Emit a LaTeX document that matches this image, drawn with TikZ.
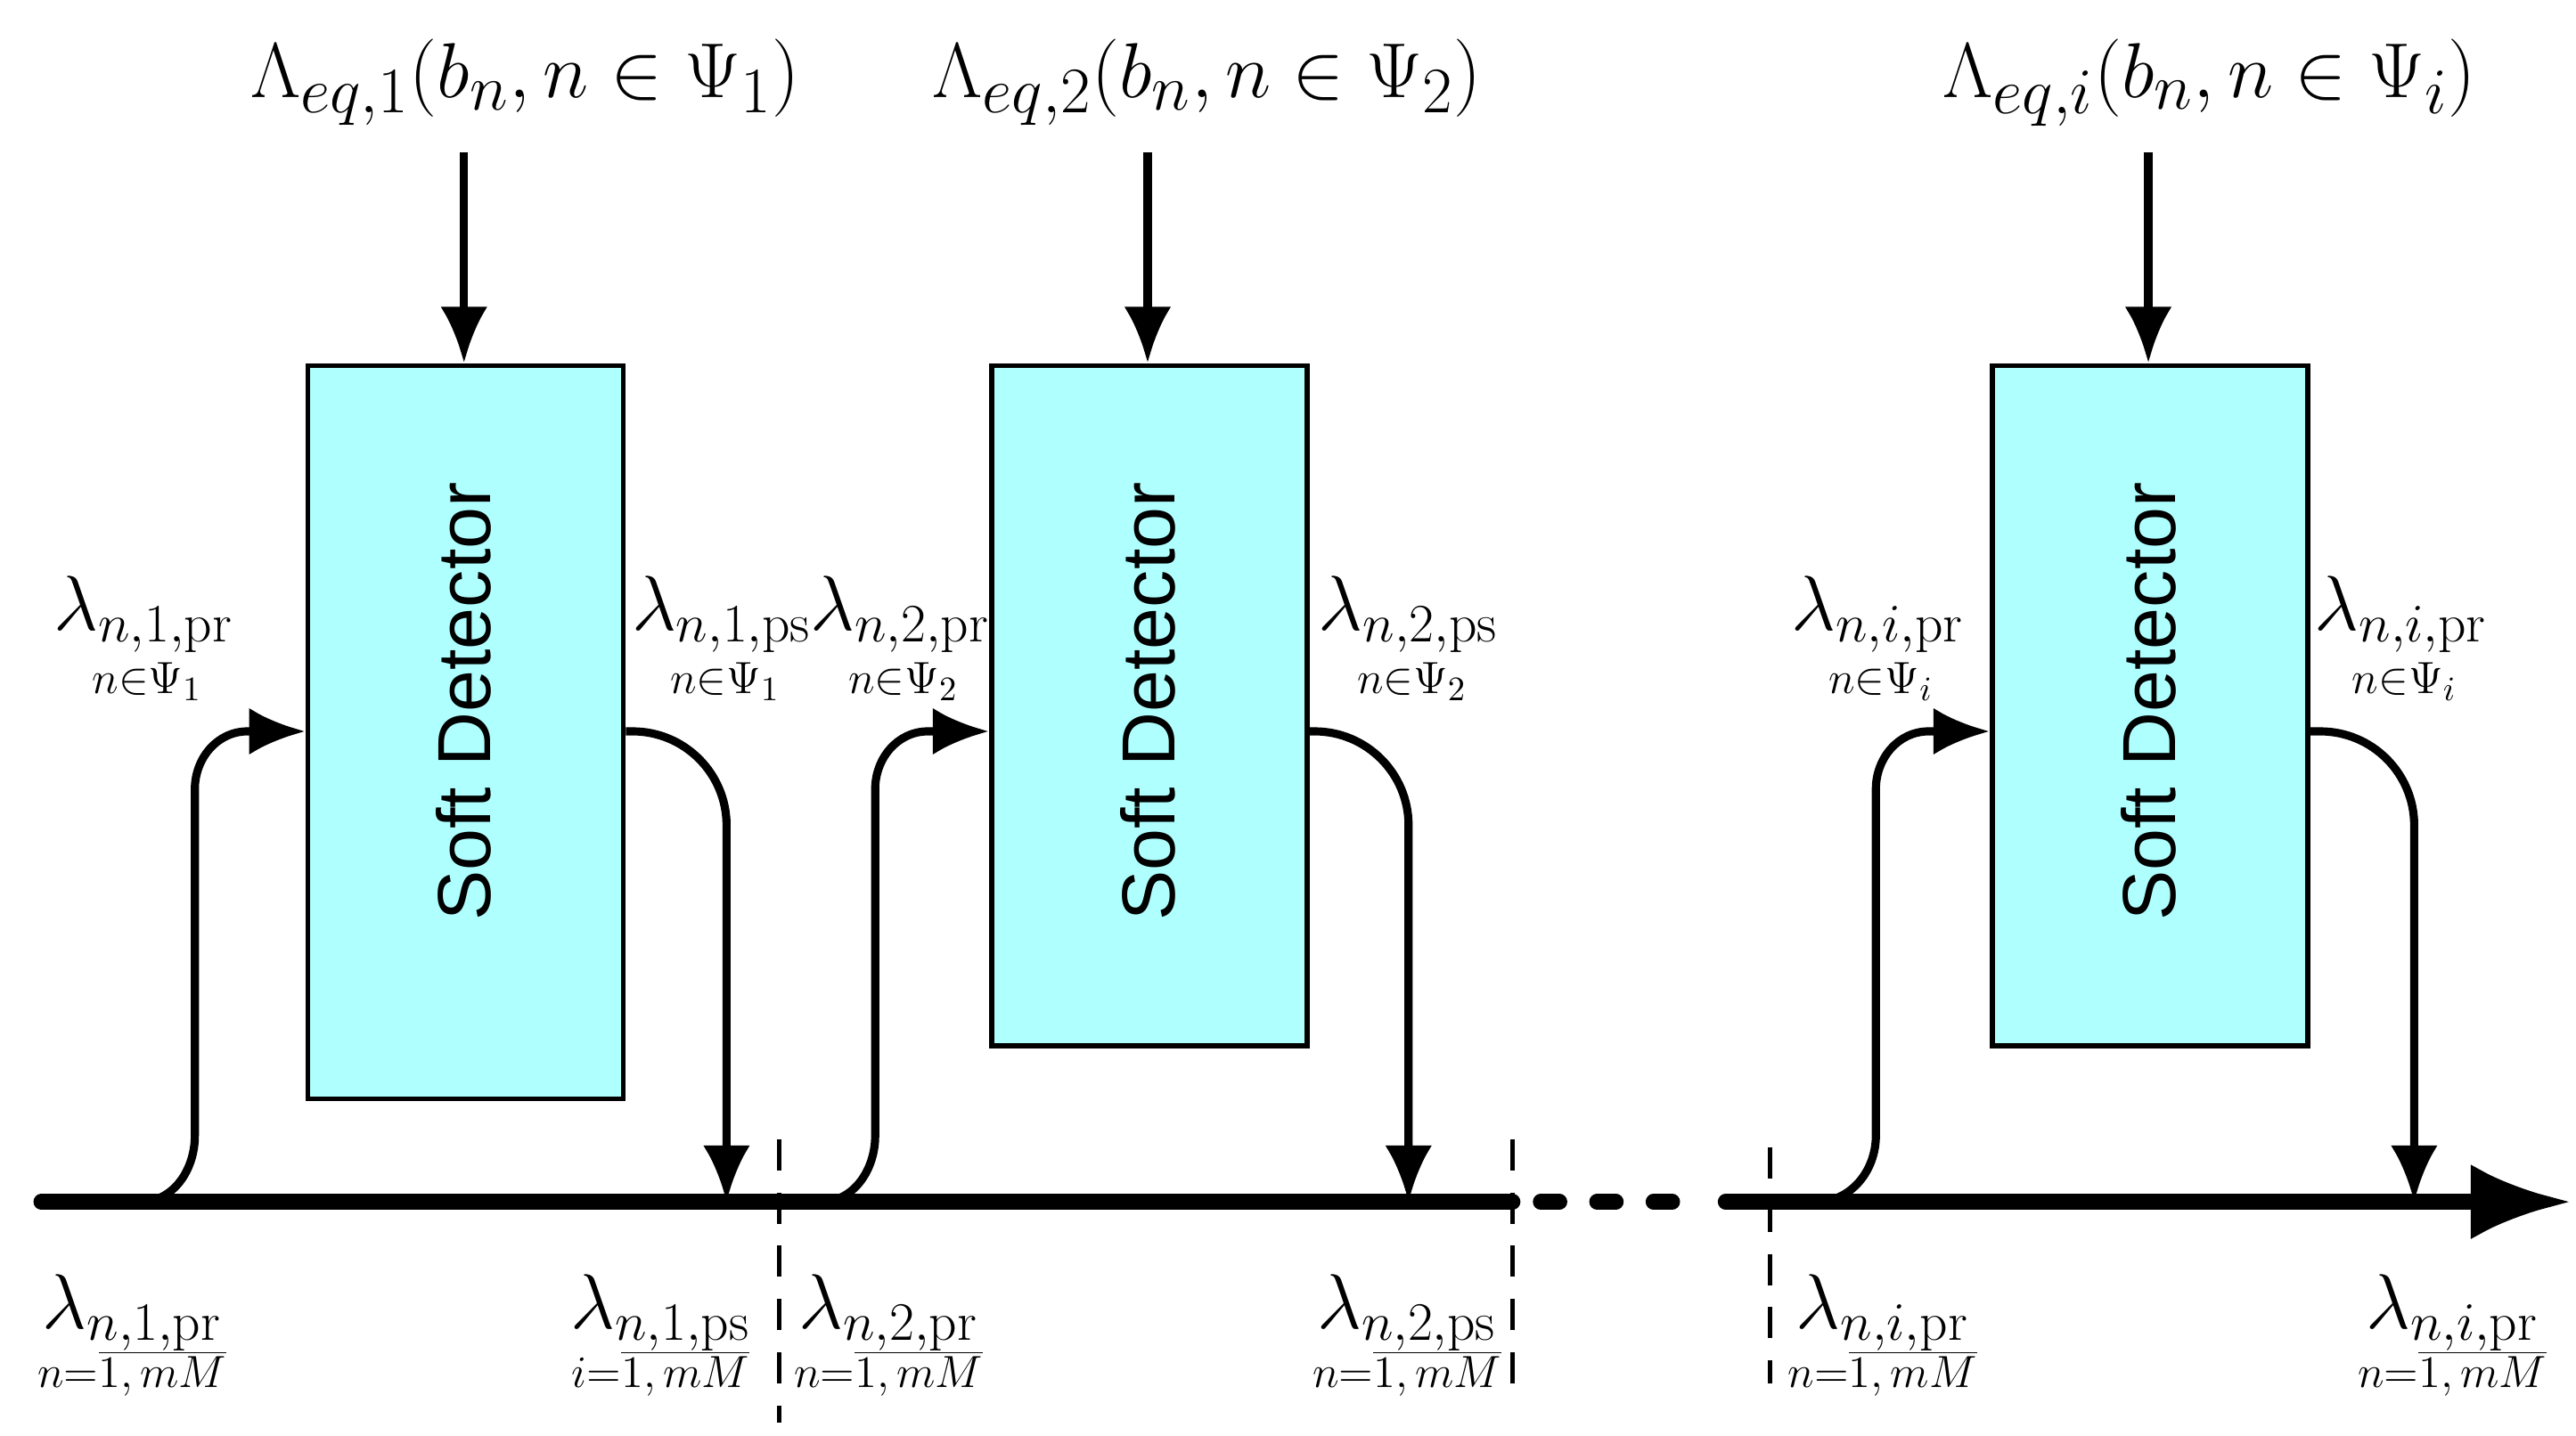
\documentclass[tikz,border=0pt]{standalone}
\usepackage{fontspec}
\newfontfamily\arialf{Liberation Sans}
\usetikzlibrary{arrows.meta}
\definecolor{boxc}{HTML}{B0FFFF}
\begin{document}
\begin{tikzpicture}[x=0.01853cm,y=-0.01853cm,
  box/.style={draw,line width=1.6pt,fill=boxc,minimum width=191*0.01853cm,inner sep=0pt},
  lp/.style={line width=2.6pt},
  tip/.style={-{Latex[length=18pt,width=15pt]}},
  dsh/.style={line width=1.4pt,dash pattern=on 10pt off 7pt},
  la/.style={font=\fontsize{25}{26}\selectfont,inner sep=0pt},
  lb/.style={font=\fontsize{15}{16}\selectfont,inner sep=0pt},
  big/.style={font=\fontsize{32}{34}\selectfont,inner sep=0pt}]
\useasboundingbox (0,0) rectangle (1560,869.4);
% boxes
\node[box,minimum height=444*0.01853cm,anchor=north west] (b1) at (185,220) {};
\node[box,minimum height=412*0.01853cm,anchor=north west] (b2) at (599,220) {};
\node[box,minimum height=412*0.01853cm,anchor=north west] (b3) at (1205,220) {};
\foreach \b/\x in {b1/281,b2/695,b3/1301}{
  \node[rotate=90,font=\arialf\fontsize{24}{26}\selectfont] at (\x,425) {Soft Detector};}
% top labels
\node[big] (t1) at (318,50) {$\Lambda_{eq,1}\Bigl(b_n,n\in\Psi_1\Bigr)$};
\node[big] (t2) at (731,50) {$\Lambda_{eq,2}\Bigl(b_n,n\in\Psi_2\Bigr)$};
\node[big] (t3) at (1338,50) {$\Lambda_{eq,i}\Bigl(b_n,n\in\Psi_i\Bigr)$};
\coordinate (a1) at (281,92); \coordinate (a2) at (695,92); \coordinate (a3) at (1301,92);
\draw[lp,tip] (a1) -- (b1.north -| a1);
\draw[lp,tip] (a2) -- (b2.north -| a2);
\draw[lp,tip] (a3) -- (b3.north -| a3);
% main line
\coordinate (m0) at (25,728); \coordinate (m1) at (916,728);
\coordinate (m2) at (1045,728); \coordinate (m3) at (1557,728);
\draw[line width=5pt,line cap=round] (m0) -- (m1);
\draw[line width=5pt,line cap=round,dash pattern=on 6pt off 12pt] (933,728) -- (1032,728);
\draw[line width=5pt,line cap=round,-{Latex[length=32pt,width=24pt]}] (m2) -- (m3);
% dashed separators
\coordinate (d1a) at (472,690); \coordinate (d1b) at (472,862);
\coordinate (d2a) at (916,690); \coordinate (d2b) at (916,838);
\coordinate (d3a) at (1072,695); \coordinate (d3b) at (1072,838);
\draw[dsh] (d1a) -- (d1b); \draw[dsh] (d2a) -- (d2b); \draw[dsh] (d3a) -- (d3b);
% loops
\foreach \b/\s/\xi/\xo in {b1/85/118/440, b2/497/530/853, b3/1100/1136/1462}{
  \draw[lp,tip] (\s,728) to[out=0,in=-90] (\xi,688) -- (\xi,478) to[out=90,in=180] (\xi+32,443) -- (\b.west |- 0,443);
  \draw[lp,tip,rounded corners=30] (\b.east |- 0,443) -| (\xo,728);
}
% side labels
\foreach \x/\k/\t in {87/1/pr, 437/1/ps, 545/2/pr, 853/2/ps, 1137/i/pr, 1454/i/pr}{
  \node[la] at (\x,372) {$\lambda_{n,\k,\mathrm{\t}}$};
  \node[lb] at (\x+2,413) {$n{\in}\Psi_\k$};
}
% bottom labels
\foreach \x/\k/\t/\v in {80/1/pr/n, 400/1/ps/i, 538/2/pr/n, 852/2/ps/n, 1140/i/pr/n, 1485/i/pr/n}{
  \node[la] at (\x,795) {$\lambda_{n,\k,\mathrm{\t}}$};
  \node[lb] at (\x,832) {$\v{=}\overline{1,mM}$};
}
\end{tikzpicture}
\end{document}
